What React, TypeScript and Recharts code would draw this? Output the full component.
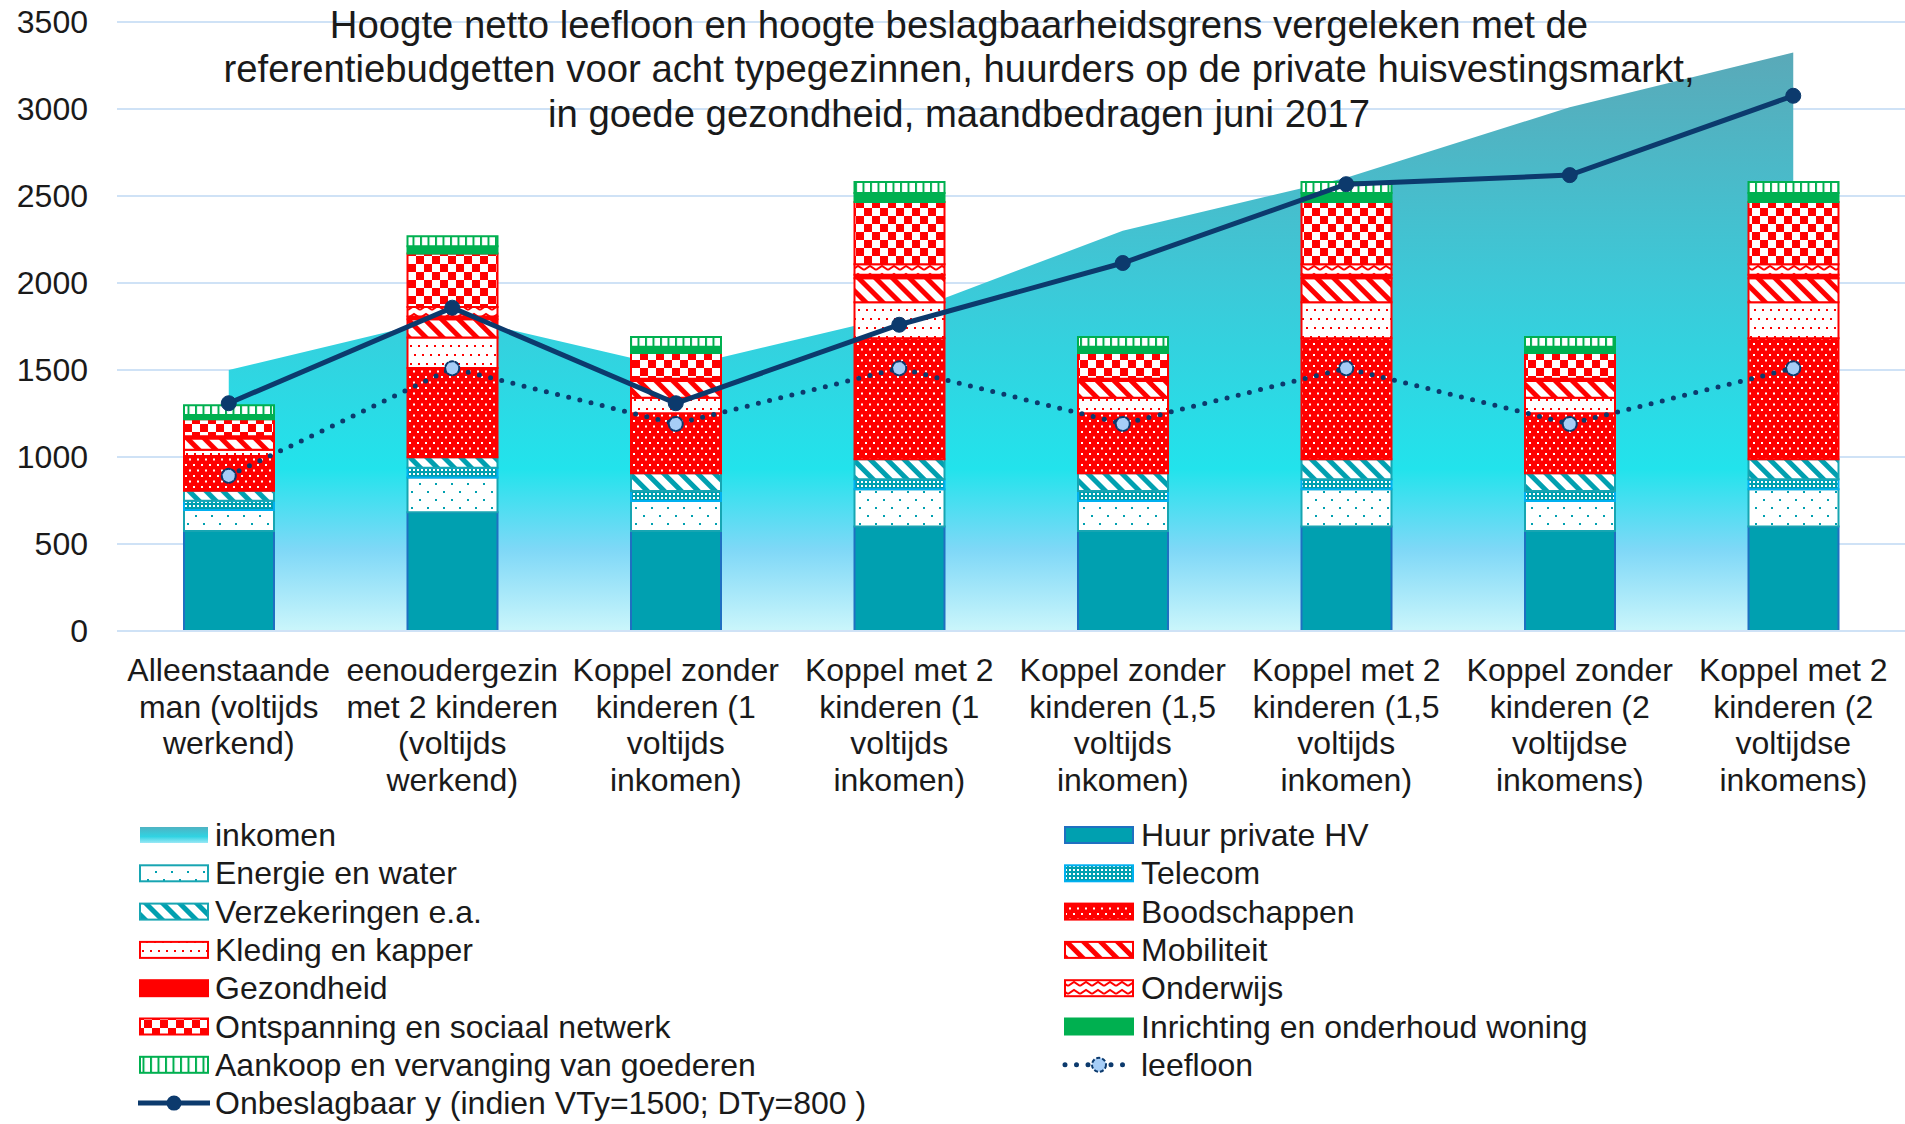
import {
  Area,
  Bar,
  CartesianGrid,
  ComposedChart,
  Legend,
  Line,
  XAxis,
  YAxis,
} from "recharts";

const FONT = '"Liberation Sans", Arial, sans-serif';
const TEXT = "#1a1a1a";
const NAVY = "#0c3a6d";
const TEAL = "#00a0b0";
const RED = "#ff0000";
const GREEN = "#00b050";

const categories = [
  "Alleenstaande\nman (voltijds\nwerkend)",
  "eenoudergezin\nmet 2 kinderen\n(voltijds\nwerkend)",
  "Koppel zonder\nkinderen (1\nvoltijds\ninkomen)",
  "Koppel met 2\nkinderen (1\nvoltijds\ninkomen)",
  "Koppel zonder\nkinderen (1,5\nvoltijds\ninkomen)",
  "Koppel met 2\nkinderen (1,5\nvoltijds\ninkomen)",
  "Koppel zonder\nkinderen (2\nvoltijdse\ninkomens)",
  "Koppel met 2\nkinderen (2\nvoltijdse\ninkomens)",
];

const inkomen = [1500, 1808, 1510, 1815, 2300, 2605, 3010, 3325];
const huur = [575, 682, 575, 600, 575, 600, 575, 600];
const energie = [120, 200, 172, 214, 172, 214, 172, 214];
const telecom = [54, 56, 58, 58, 58, 58, 58, 58];
const verzekeringen = [57, 61, 101, 115, 101, 115, 101, 115];
const boodschappen = [200, 513, 346, 695, 346, 695, 346, 695];
const kleding = [36, 175, 88, 208, 88, 208, 88, 208];
const mobiliteit = [64, 105, 97, 138, 97, 138, 97, 138];
const gezondheid = [13, 15, 13, 19, 13, 19, 13, 19];
const onderwijs = [0, 55, 0, 61, 0, 61, 0, 61];
const ontspanning = [98, 307, 147, 357, 147, 357, 147, 357];
const inrichting = [25, 42, 36, 52, 36, 52, 36, 52];
const aankoop = [55, 57, 57, 63, 57, 63, 57, 63];
const leefloon = [892, 1510, 1190, 1510, 1190, 1510, 1190, 1510];
const onbeslagbaar = [1309, 1858, 1309, 1760, 2115, 2568, 2620, 3076];

const yTicks = [0, 500, 1000, 1500, 2000, 2500, 3000, 3500];

const titleLines = [
  "Hoogte netto leefloon en hoogte beslagbaarheidsgrens vergeleken met de",
  "referentiebudgetten voor acht typegezinnen, huurders op de private huisvestingsmarkt,",
  "in goede gezondheid, maandbedragen juni 2017",
];

const data = categories.map((name, i) => ({
  name,
  inkomen: inkomen[i],
  huur: huur[i],
  energie: energie[i],
  telecom: telecom[i],
  verzekeringen: verzekeringen[i],
  boodschappen: boodschappen[i],
  kleding: kleding[i],
  mobiliteit: mobiliteit[i],
  gezondheid: gezondheid[i],
  onderwijs: onderwijs[i],
  ontspanning: ontspanning[i],
  inrichting: inrichting[i],
  aankoop: aankoop[i],
  leefloon: leefloon[i],
  onbeslagbaar: onbeslagbaar[i],
}));

const stackSeries = [
  { key: "huur", name: "Huur private HV", fill: TEAL, stroke: "#1f70c1" },
  { key: "energie", name: "Energie en water", fill: "url(#pEnergie)", stroke: "#17a5b2" },
  { key: "telecom", name: "Telecom", fill: "url(#pTelecom)", stroke: "#00b0f0" },
  { key: "verzekeringen", name: "Verzekeringen e.a.", fill: "url(#pVerz)", stroke: "#17a5b2" },
  { key: "boodschappen", name: "Boodschappen", fill: "url(#pBood)", stroke: RED },
  { key: "kleding", name: "Kleding en kapper", fill: "url(#pKleding)", stroke: RED },
  { key: "mobiliteit", name: "Mobiliteit", fill: "url(#pMob)", stroke: RED },
  { key: "gezondheid", name: "Gezondheid", fill: RED, stroke: RED },
  { key: "onderwijs", name: "Onderwijs", fill: "url(#pOnderwijs)", stroke: RED },
  { key: "ontspanning", name: "Ontspanning en sociaal netwerk", fill: "url(#pCheck)", stroke: RED },
  { key: "inrichting", name: "Inrichting en onderhoud woning", fill: GREEN, stroke: GREEN },
  { key: "aankoop", name: "Aankoop en vervanging van goederen", fill: "url(#pAankoop)", stroke: GREEN },
];

const byKey = (k: string) => stackSeries.find((s) => s.key === k)!;

// legend order as in the original: two columns, read row by row
const legendLeft = ["inkomen", "energie", "verzekeringen", "kleding", "gezondheid", "ontspanning", "aankoop", "onbeslagbaar"];
const legendRight = ["huur", "telecom", "boodschappen", "mobiliteit", "onderwijs", "inrichting", "leefloon"];

const Patterns = () => (
  <defs>
    <linearGradient id="gInkomen" x1="0" y1="0" x2="0" y2="1">
      <stop offset="0%" stopColor="#5aa9b8" />
      <stop offset="40%" stopColor="#3cc9d8" />
      <stop offset="72%" stopColor="#22e3ec" />
      <stop offset="86%" stopColor="#7fd8f7" />
      <stop offset="100%" stopColor="#cbf6fb" />
    </linearGradient>
    <linearGradient id="gInkomenLegend" x1="0" y1="0" x2="0" y2="1">
      <stop offset="0%" stopColor="#4fb3c3" />
      <stop offset="60%" stopColor="#30d3e2" />
      <stop offset="100%" stopColor="#9be8f6" />
    </linearGradient>
    <pattern id="pEnergie" width="16" height="16" patternUnits="userSpaceOnUse">
      <rect width="16" height="16" fill="#fff" />
      <rect x="3" y="3" width="2" height="2" fill={TEAL} />
      <rect x="11" y="11" width="2" height="2" fill={TEAL} />
    </pattern>
    <pattern id="pTelecom" width="4" height="4" patternUnits="userSpaceOnUse">
      <rect width="4" height="4" fill={TEAL} />
      <rect x="1" y="1" width="2" height="2" fill="#fff" />
    </pattern>
    <pattern id="pVerz" width="12" height="12" patternUnits="userSpaceOnUse" patternTransform="rotate(-45)">
      <rect width="12" height="12" fill="#fff" />
      <rect width="5" height="12" fill={TEAL} />
    </pattern>
    <pattern id="pBood" width="8" height="11" patternUnits="userSpaceOnUse">
      <rect width="8" height="11" fill={RED} />
      <rect x="1" y="2" width="2" height="2" fill="#fff" />
      <rect x="5" y="7.5" width="2" height="2" fill="#fff" />
    </pattern>
    <pattern id="pKleding" width="8" height="18" patternUnits="userSpaceOnUse">
      <rect width="8" height="18" fill="#fff" />
      <rect x="2" y="3" width="2" height="2" fill={RED} />
      <rect x="6" y="12" width="2" height="2" fill={RED} />
    </pattern>
    <pattern id="pMob" width="12" height="12" patternUnits="userSpaceOnUse" patternTransform="rotate(-45)">
      <rect width="12" height="12" fill="#fff" />
      <rect width="5" height="12" fill={RED} />
    </pattern>
    <pattern id="pOnderwijs" width="12" height="8" patternUnits="userSpaceOnUse">
      <rect width="12" height="8" fill="#fff" />
      <polyline points="0,6 6,2 12,6" fill="none" stroke={RED} strokeWidth="2" />
    </pattern>
    <pattern id="pCheck" width="16" height="16" patternUnits="userSpaceOnUse">
      <rect width="16" height="16" fill="#fff" />
      <rect width="8" height="8" fill={RED} />
      <rect x="8" y="8" width="8" height="8" fill={RED} />
    </pattern>
    <pattern id="pAankoop" width="7.5" height="8" patternUnits="userSpaceOnUse">
      <rect width="7.5" height="8" fill="#fff" />
      <rect width="2" height="8" fill={GREEN} />
    </pattern>
  </defs>
);

const CategoryTick = (props: any) => {
  const { x, y, payload } = props;
  const lines = String(payload.value).split("\n");
  return (
    <text x={x} y={y + 50} textAnchor="middle" fill={TEXT} fontSize={32} fontFamily={FONT}>
      {lines.map((l, i) => (
        <tspan key={i} x={x} dy={i === 0 ? 0 : 36.5}>
          {l}
        </tspan>
      ))}
    </text>
  );
};

const LegendSymbol = ({ k, x, cy }: { k: string; x: number; cy: number }) => {
  if (k === "inkomen") {
    return <rect x={x} y={cy - 8} width={68} height={16} fill="url(#gInkomenLegend)" />;
  }
  if (k === "onbeslagbaar") {
    return (
      <g>
        <line x1={x - 2} x2={x + 70} y1={cy} y2={cy} stroke={NAVY} strokeWidth={5} />
        <circle cx={x + 34} cy={cy} r={7.5} fill={NAVY} />
      </g>
    );
  }
  if (k === "leefloon") {
    return (
      <g>
        <line x1={x} x2={x + 68} y1={cy} y2={cy} stroke={NAVY} strokeWidth={5} strokeDasharray="0 11.5" strokeLinecap="round" />
        <circle cx={x + 34} cy={cy} r={7} fill="#a6cdf6" stroke={NAVY} strokeWidth={2} strokeDasharray="4 2" />
      </g>
    );
  }
  const s = byKey(k);
  return <rect x={x} y={cy - 8} width={68} height={16} fill={s.fill} stroke={s.stroke} strokeWidth={2} />;
};

const legendName = (k: string) => {
  if (k === "inkomen") return "inkomen";
  if (k === "leefloon") return "leefloon";
  if (k === "onbeslagbaar") return "Onbeslagbaar y (indien VTy=1500; DTy=800 )";
  return byKey(k).name;
};

const ChartLegend = () => {
  const col = (keys: string[], sx: number, tx: number) =>
    keys.map((k, i) => {
      const cy = 23 + i * 38.3;
      return (
        <g key={k}>
          <LegendSymbol k={k} x={sx} cy={cy} />
          <text x={tx} y={cy + 11} fontSize={32} fontFamily={FONT} fill={TEXT}>
            {legendName(k)}
          </text>
        </g>
      );
    });
  return (
    <svg width={1905} height={310} style={{ display: "block" }}>
      {col(legendLeft, 140, 215)}
      {col(legendRight, 1065, 1141)}
    </svg>
  );
};

export default function App() {
  return (
    <div style={{ position: "fixed", left: 0, top: 0, width: 1905, height: 1124, background: "#fff" }}>
      <ComposedChart
        width={1905}
        height={1124}
        data={data}
        margin={{ top: 22, right: 0, bottom: 343, left: 0 }}
      >
        <Patterns />
        <CartesianGrid vertical={false} stroke="#cfe2f6" strokeWidth={2} />
        <XAxis
          dataKey="name"
          height={150}
          interval={0}
          tickLine={false}
          tickSize={0}
          tickMargin={0}
          axisLine={{ stroke: "#cfe2f6", strokeWidth: 2 }}
          tick={<CategoryTick />}
        />
        <YAxis
          width={117}
          domain={[0, 3500]}
          ticks={yTicks}
          interval={0}
          axisLine={false}
          tickLine={false}
          tickSize={0}
          tickMargin={29}
          tick={{ fill: TEXT, fontSize: 32, fontFamily: FONT }}
        />
        <Area
          name="inkomen"
          type="linear"
          dataKey="inkomen"
          stroke="none"
          fill="url(#gInkomen)"
          fillOpacity={1}
          isAnimationActive={false}
          dot={false}
          activeDot={false}
        />
        {stackSeries.map((s) => (
          <Bar
            key={s.key}
            dataKey={s.key}
            name={s.name}
            stackId="kosten"
            barSize={90}
            fill={s.fill}
            stroke={s.stroke}
            strokeWidth={2}
            isAnimationActive={false}
          />
        ))}
        <Line
          name="leefloon"
          type="linear"
          dataKey="leefloon"
          stroke={NAVY}
          strokeWidth={5}
          strokeDasharray="0 11.5"
          strokeLinecap="round"
          dot={{ r: 7, fill: "#a6cdf6", stroke: NAVY, strokeWidth: 2, strokeDasharray: "4 2" }}
          activeDot={false}
          isAnimationActive={false}
        />
        <Line
          name="Onbeslagbaar y (indien VTy=1500; DTy=800 )"
          type="linear"
          dataKey="onbeslagbaar"
          stroke={NAVY}
          strokeWidth={5}
          dot={{ r: 7.5, fill: NAVY, stroke: NAVY, strokeWidth: 1, strokeDasharray: "none" }}
          activeDot={false}
          isAnimationActive={false}
        />
        <Legend
          layout="horizontal"
          verticalAlign="middle"
          align="center"
          wrapperStyle={{ top: 812, left: 0, width: 1905, height: 310 }}
          content={() => <ChartLegend />}
        />
      </ComposedChart>
      {/* title sits above the area fill, as in the original */}
      <div
        style={{
          position: "absolute",
          left: 59,
          top: 2.5,
          width: 1800,
          textAlign: "center",
          fontFamily: FONT,
          fontSize: 38.3,
          lineHeight: "44.5px",
          color: TEXT,
          whiteSpace: "nowrap",
          pointerEvents: "none",
        }}
      >
        {titleLines.map((l, i) => (
          <div key={i}>{l}</div>
        ))}
      </div>
    </div>
  );
}
